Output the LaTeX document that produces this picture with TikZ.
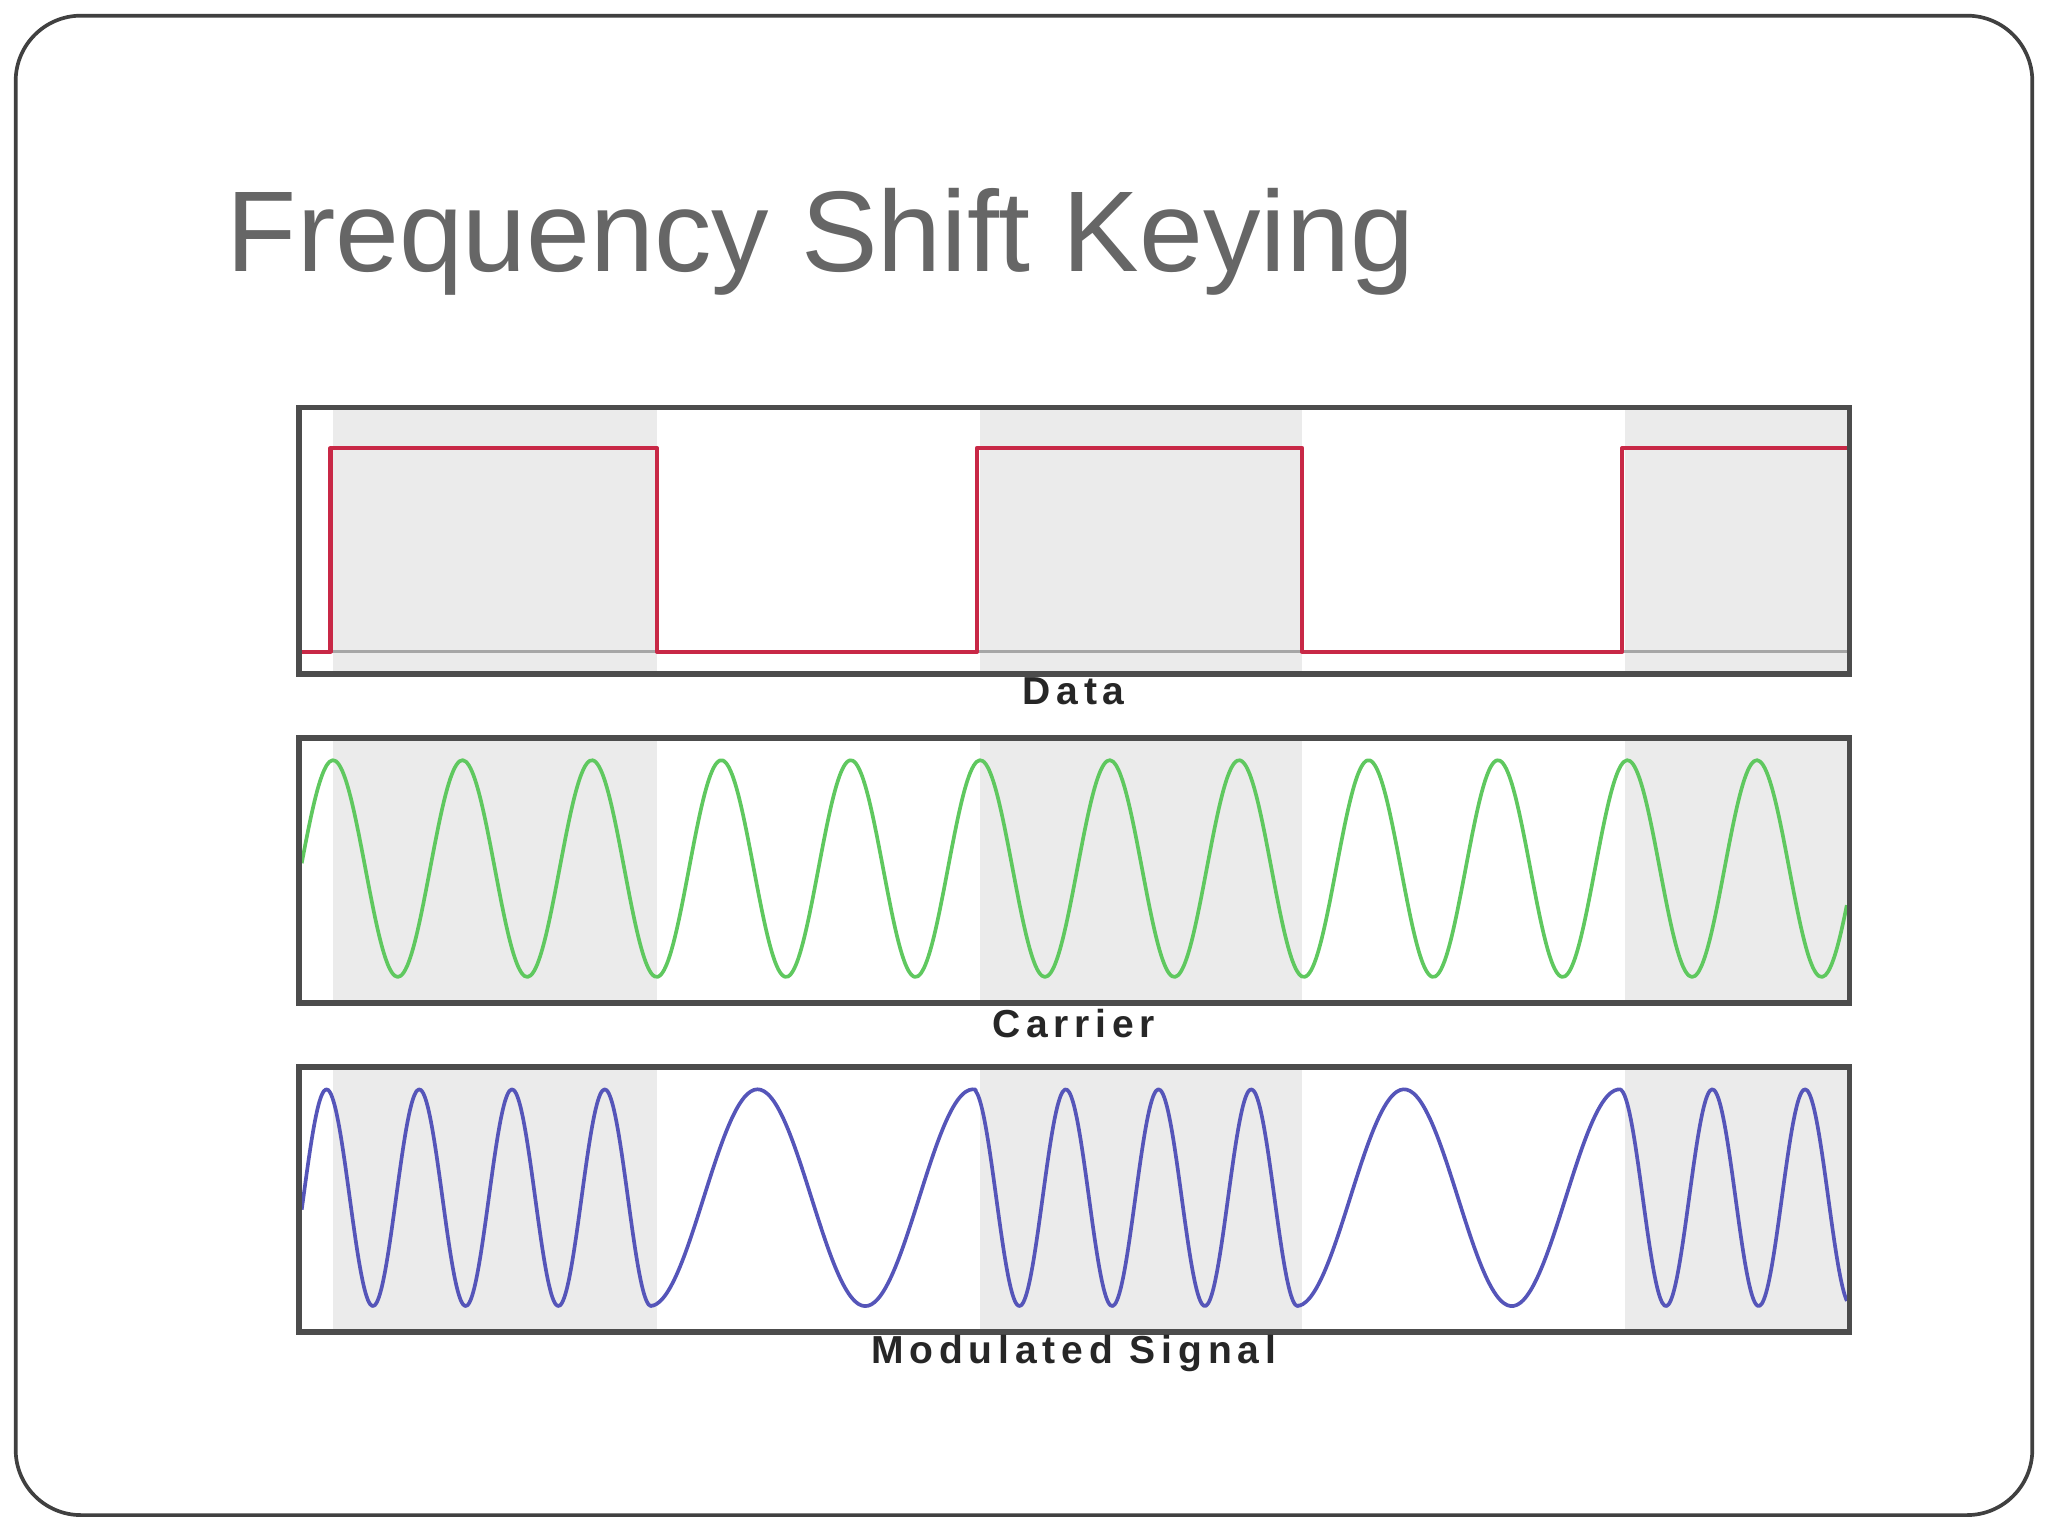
\documentclass[tikz,border=0pt]{standalone}
\usepackage{fontspec}
\setmainfont{Liberation Sans}
\begin{document}
\begin{tikzpicture}[x=0.01cm,y=-0.01cm,
  panel/.style={draw=black!70,line width=1.2pt},
  lab/.style={font=\fontsize{8.5pt}{9pt}\selectfont\bfseries\addfontfeature{LetterSpace=15},text=black!85},
  sig/.style={line width=0.8pt,line join=round}]
\definecolor{grn}{RGB}{95,200,95}
\definecolor{blu}{RGB}{85,85,185}
\definecolor{rd}{RGB}{200,40,70}
\useasboundingbox (0,0) rectangle (1568,1176);
\fill[white] (0,0) rectangle (1568,1176);
\draw[black!75,line width=0.8pt,rounded corners=0.5cm] (12,12) rectangle (1556,1160);
\node[anchor=base west,text=black!60,font=\fontsize{25pt}{30pt}\selectfont,inner sep=0] (title) at (173,208) {Frequency Shift Keying};
\foreach \yt/\yb in {312/516,565/768,817/1020}{
  \fill[white] (229,\yt) rectangle (1416,\yb);
  \foreach \a/\b in {255/503,750/997,1244/1414}{\fill[black!8] (\a,\yt) rectangle (\b,\yb);}
}
\draw[black!35,line width=0.6pt] (229,499) -- (1416,499);
\draw[sig,rd,line width=0.9pt] (231,499) -- (253,499) -- (253,343) -- (503,343) -- (503,499) -- (748,499) -- (748,343) -- (997,343) -- (997,499) -- (1242,499) -- (1242,343) -- (1414,343);
\draw[sig,grn] plot[domain=231:1414,samples=500,smooth] (\x,{665-83*cos(3.6327*(\x-255))});
\draw[sig,blu] plot[domain=231:500,samples=160,smooth] (\x,{917-83*cos(5.0704*(\x-250))})
  -- plot[domain=500:747,samples=100,smooth] (\x,{917-83*cos(2.1818*(\x-580))})
  -- plot[domain=747:995,samples=150,smooth] (\x,{917-83*cos(5.0704*(\x-745))})
  -- plot[domain=995:1241,samples=100,smooth] (\x,{917-83*cos(2.1818*(\x-1075))})
  -- plot[domain=1241:1414,samples=110,smooth] (\x,{917-83*cos(5.0704*(\x-1240))});
\foreach \yt/\yb in {312/516,565/768,817/1020}{\draw[panel] (229,\yt) rectangle (1416,\yb);}
\node[lab] (l1) at (822,529) {Data};
\node[lab] (l2) at (822,784) {Carrier};
\node[lab] (l3) at (822,1036) {Modulated Signal};
\end{tikzpicture}
\end{document}
